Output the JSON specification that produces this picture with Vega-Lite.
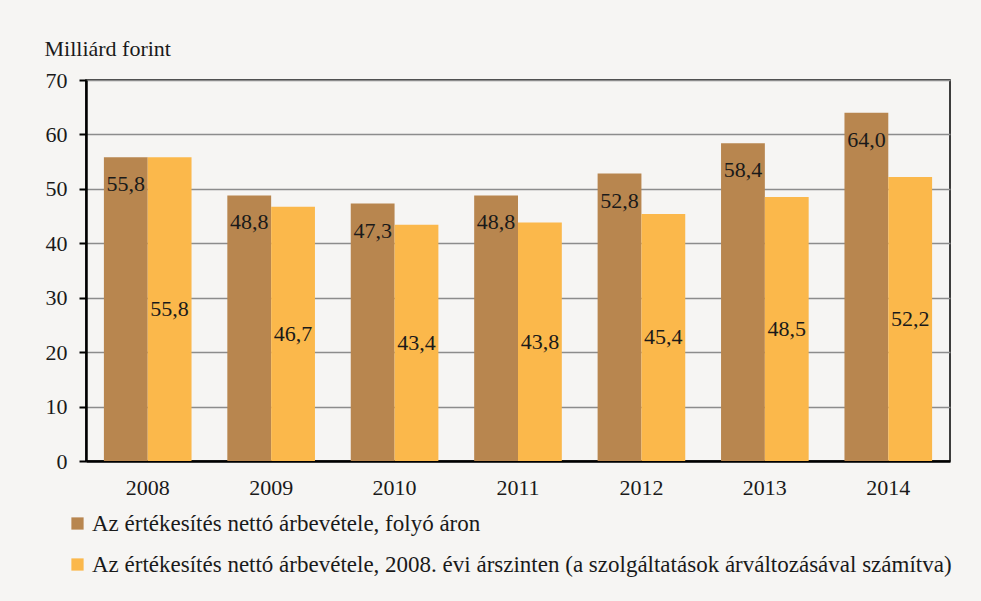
{
  "$schema": "https://vega.github.io/schema/vega-lite/v6.json",
  "width": 864,
  "height": 381,
  "autosize": "none",
  "padding": {"left": 86, "top": 80, "right": 31, "bottom": 140},
  "background": "#F6F5F3",
  "config": {
    "locale": {"number": {"decimal": ",", "thousands": " ", "grouping": [3], "currency": ["", " Ft"]}},
    "font": "Liberation Serif",
    "view": {"stroke": "#000000", "strokeWidth": 1.5},
    "axis": {"labelFont": "Liberation Serif", "titleFont": "Liberation Serif", "labelColor": "#1a1a1a", "titleColor": "#1a1a1a"}
  },
  "data": {
    "values": [
      {"year": "2008", "series": "Az értékesítés nettó árbevétele, folyó áron", "value": 55.8},
      {"year": "2009", "series": "Az értékesítés nettó árbevétele, folyó áron", "value": 48.8},
      {"year": "2010", "series": "Az értékesítés nettó árbevétele, folyó áron", "value": 47.3},
      {"year": "2011", "series": "Az értékesítés nettó árbevétele, folyó áron", "value": 48.8},
      {"year": "2012", "series": "Az értékesítés nettó árbevétele, folyó áron", "value": 52.8},
      {"year": "2013", "series": "Az értékesítés nettó árbevétele, folyó áron", "value": 58.4},
      {"year": "2014", "series": "Az értékesítés nettó árbevétele, folyó áron", "value": 64.0},
      {"year": "2008", "series": "Az értékesítés nettó árbevétele, 2008. évi árszinten (a szolgáltatások árváltozásával számítva)", "value": 55.8},
      {"year": "2009", "series": "Az értékesítés nettó árbevétele, 2008. évi árszinten (a szolgáltatások árváltozásával számítva)", "value": 46.7},
      {"year": "2010", "series": "Az értékesítés nettó árbevétele, 2008. évi árszinten (a szolgáltatások árváltozásával számítva)", "value": 43.4},
      {"year": "2011", "series": "Az értékesítés nettó árbevétele, 2008. évi árszinten (a szolgáltatások árváltozásával számítva)", "value": 43.8},
      {"year": "2012", "series": "Az értékesítés nettó árbevétele, 2008. évi árszinten (a szolgáltatások árváltozásával számítva)", "value": 45.4},
      {"year": "2013", "series": "Az értékesítés nettó árbevétele, 2008. évi árszinten (a szolgáltatások árváltozásával számítva)", "value": 48.5},
      {"year": "2014", "series": "Az értékesítés nettó árbevétele, 2008. évi árszinten (a szolgáltatások árváltozásával számítva)", "value": 52.2}
    ]
  },
  "encoding": {
    "x": {"field": "year", "type": "nominal", "scale": {"paddingInner": 0.29, "paddingOuter": 0.145},
      "axis": {"title": null, "labelAngle": 0, "labelFontSize": 22, "ticks": false, "labelPadding": 16, "domainColor": "#000000", "domainWidth": 2.5}},
    "xOffset": {"field": "series", "type": "nominal", "sort": null, "scale": {"domain": ["Az értékesítés nettó árbevétele, folyó áron", "Az értékesítés nettó árbevétele, 2008. évi árszinten (a szolgáltatások árváltozásával számítva)"]}}
  },
  "layer": [
    {
      "mark": {"type": "bar"},
      "encoding": {
        "y": {"field": "value", "type": "quantitative", "scale": {"domain": [0, 70], "nice": false},
          "axis": {"values": [0, 10, 20, 30, 40, 50, 60, 70], "labelFontSize": 22, "tickSize": 7, "tickColor": "#000000", "tickWidth": 2, "labelPadding": 12,
            "domainColor": "#000000", "domainWidth": 2.5, "gridColor": "#8c8c8c", "gridWidth": 1.5,
            "title": "Milliárd forint", "titleAngle": 0, "titleFontSize": 22, "titleFontWeight": "normal", "titleAlign": "left", "titleBaseline": "alphabetic", "titleX": -42, "titleY": -25}},
        "color": {"field": "series", "type": "nominal", "sort": null,
          "scale": {"domain": ["Az értékesítés nettó árbevétele, folyó áron", "Az értékesítés nettó árbevétele, 2008. évi árszinten (a szolgáltatások árváltozásával számítva)"], "range": ["#B8864F", "#FBB84B"]},
          "legend": {"title": null, "orient": "none", "legendX": -20, "legendY": 432, "direction": "vertical", "symbolType": "square", "symbolSize": 150, "symbolStrokeWidth": 0, "labelFontSize": 23, "labelFont": "Liberation Serif", "labelColor": "#1a1a1a", "labelLimit": 0, "rowPadding": 17, "labelOffset": 3}}
      }
    },
    {
      "transform": [{"filter": "datum.series === 'Az értékesítés nettó árbevétele, folyó áron'"}],
      "mark": {"type": "text", "baseline": "top", "dy": 17, "fontSize": 22, "color": "#1a1a1a"},
      "encoding": {
        "y": {"field": "value", "type": "quantitative", "scale": {"domain": [0, 70], "nice": false}, "axis": null},
        "text": {"field": "value", "type": "quantitative", "format": ".1f"}
      }
    },
    {
      "transform": [{"filter": "datum.series !== 'Az értékesítés nettó árbevétele, folyó áron'"}],
      "mark": {"type": "text", "baseline": "middle", "fontSize": 22, "color": "#1a1a1a"},
      "encoding": {
        "y": {"field": "value", "type": "quantitative", "scale": {"domain": [0, 140], "nice": false}, "axis": null},
        "text": {"field": "value", "type": "quantitative", "format": ".1f"}
      }
    }
  ],
  "resolve": {"scale": {"y": "independent"}}
}
